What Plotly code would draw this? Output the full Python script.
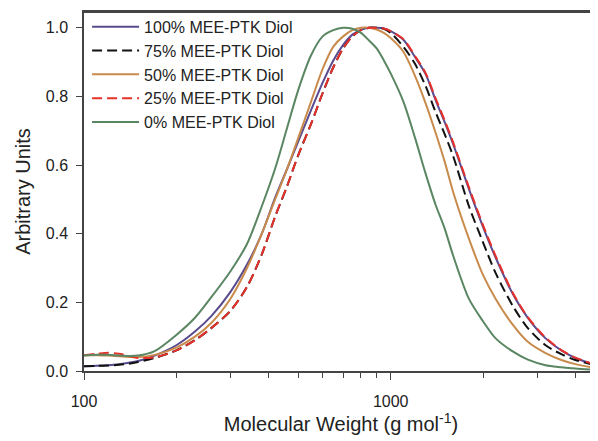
import plotly.graph_objects as go

# Molecular weight grid (g/mol)
mw = [100, 110, 120, 130, 140, 150, 170, 200, 230, 260, 300, 340, 380, 420, 460,
      500, 550, 600, 650, 700, 750, 800, 850, 900, 950, 1000, 1100, 1200, 1300,
      1400, 1500, 1600, 1800, 2000, 2200, 2500, 2800, 3200, 3600, 4000, 4700]

# Series (arbitrary units)
y100 = [0.014, 0.015, 0.017, 0.020, 0.024, 0.029, 0.045, 0.075, 0.115, 0.160, 0.230, 0.310, 0.400, 0.505, 0.590,
        0.670, 0.760, 0.840, 0.905, 0.950, 0.980, 0.994, 1.000, 1.000, 0.998, 0.990, 0.965, 0.915, 0.865,
        0.790, 0.725, 0.660, 0.530, 0.420, 0.330, 0.225, 0.155, 0.095, 0.060, 0.038, 0.017]
y75 = [0.014, 0.015, 0.016, 0.018, 0.021, 0.026, 0.038, 0.060, 0.090, 0.125, 0.175, 0.245, 0.340, 0.450, 0.540,
       0.630, 0.720, 0.810, 0.885, 0.940, 0.975, 0.993, 1.000, 1.000, 0.997, 0.985, 0.945, 0.895, 0.830,
       0.755, 0.690, 0.625, 0.480, 0.375, 0.285, 0.190, 0.125, 0.075, 0.049, 0.032, 0.016]
y50 = [0.046, 0.046, 0.045, 0.043, 0.041, 0.040, 0.047, 0.068, 0.100, 0.140, 0.210, 0.300, 0.400, 0.500, 0.590,
       0.680, 0.785, 0.880, 0.945, 0.975, 0.993, 1.000, 1.000, 0.995, 0.985, 0.970, 0.930, 0.860, 0.780,
       0.695, 0.610, 0.520, 0.385, 0.280, 0.210, 0.135, 0.085, 0.052, 0.032, 0.020, 0.008]
y25 = [0.046, 0.050, 0.053, 0.050, 0.044, 0.038, 0.040, 0.060, 0.090, 0.125, 0.175, 0.245, 0.340, 0.450, 0.540,
       0.630, 0.720, 0.810, 0.885, 0.940, 0.975, 0.993, 1.000, 1.000, 0.998, 0.990, 0.967, 0.918, 0.868,
       0.795, 0.730, 0.665, 0.535, 0.425, 0.335, 0.228, 0.157, 0.097, 0.061, 0.039, 0.017]
y0 = [0.045, 0.047, 0.047, 0.045, 0.044, 0.045, 0.058, 0.105, 0.155, 0.215, 0.290, 0.370, 0.480, 0.590, 0.710,
      0.820, 0.920, 0.975, 0.993, 1.000, 0.997, 0.985, 0.963, 0.940, 0.905, 0.867, 0.785, 0.680, 0.575,
      0.485, 0.415, 0.335, 0.210, 0.145, 0.095, 0.057, 0.033, 0.017, 0.011, 0.007, 0.003]

names = ["100% MEE-PTK Diol", "75% MEE-PTK Diol", "50% MEE-PTK Diol",
         "25% MEE-PTK Diol", "0% MEE-PTK Diol"]
series = [y100, y75, y50, y25, y0]
colors = ["#5A4A8E", "#111111", "#C98B4C", "#E8302A", "#5A8662"]
dashes = ["solid", "10px,5px", "solid", "10px,5px", "solid"]

fig = go.Figure()
for n, ys, c, d in zip(names, series, colors, dashes):
    fig.add_trace(go.Scatter(x=mw, y=ys, name=n, mode="lines",
                             line=dict(color=c, width=2, dash=d, shape="spline", smoothing=0.8)))

font = "Arial, Liberation Sans, sans-serif"
# page has an 8px body margin, so the figure is sized to fit inside the window
fig.update_layout(
    width=590, height=433,
    margin=dict(l=76, r=0, t=4, b=70),
    paper_bgcolor="white", plot_bgcolor="white",
    font=dict(family=font, size=16, color="#222222"),
    showlegend=True,
    legend=dict(x=0.006, y=1.006, xanchor="left", yanchor="top",
                bgcolor="rgba(0,0,0,0)", itemwidth=47,
                font=dict(family=font, size=16, color="#222222")),
    shapes=[dict(type="line", xref="paper", yref="paper", x0=0, x1=1, y0=1, y1=1,
                 line=dict(color="#444444", width=2), layer="above")],
)
fig.update_xaxes(
    type="log", range=[2, 3.676], automargin=False,
    tickmode="array", tickvals=[100, 1000], ticktext=["100", "1000"],
    ticks="outside", ticklen=7, tickwidth=1, tickcolor="#444444",
    minor=dict(tickmode="array",
               tickvals=[200, 300, 400, 500, 600, 700, 800, 900, 2000, 3000, 4000],
               ticks="outside", ticklen=5, tickcolor="#444444", showgrid=False),
    showline=True, linecolor="#444444", linewidth=1.5, mirror=True,
    showgrid=False, zeroline=False,
    ticklabelstandoff=8,
    tickfont=dict(size=16, color="#222222"),
    title=dict(text="Molecular Weight (g mol<sup>-1</sup>)", font=dict(size=20, color="#222222"), standoff=4),
)
fig.update_yaxes(
    range=[0, 1.046], automargin=False,
    tickmode="array", tickvals=[0, 0.2, 0.4, 0.6, 0.8, 1.0], ticktext=["0.0", "0.2", "0.4", "0.6", "0.8", "1.0"],
    ticks="outside", ticklen=6, tickwidth=1, tickcolor="#444444",
    showline=True, linecolor="#444444", linewidth=1.5, mirror=False,
    showgrid=False, zeroline=False,
    ticklabelstandoff=5,
    tickfont=dict(size=16, color="#222222"),
    title=dict(text="Arbitrary Units", font=dict(size=20, color="#222222"), standoff=10),
)

fig.write_html("out.html")
